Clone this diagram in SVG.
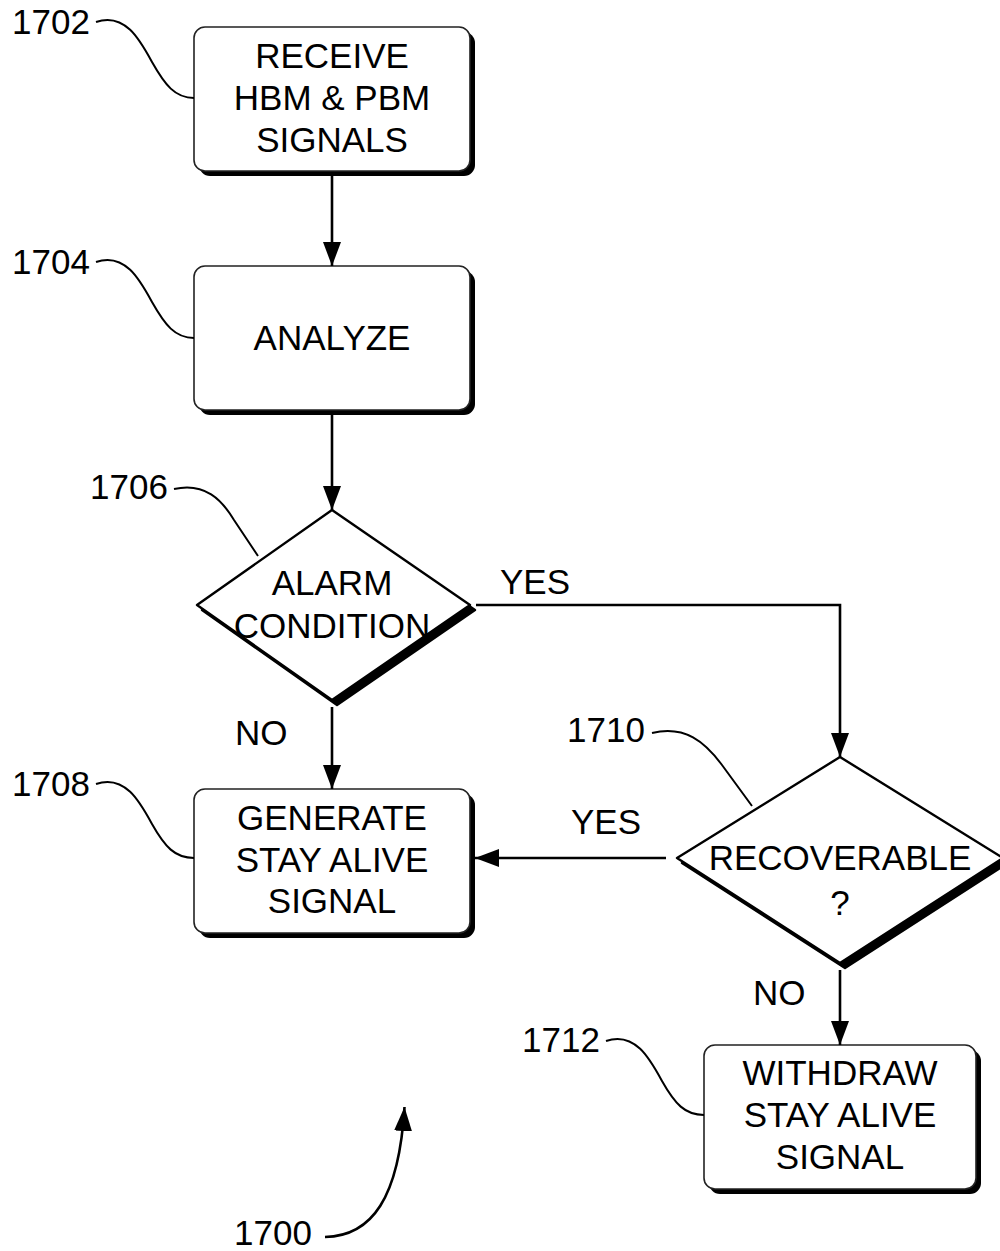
<svg xmlns="http://www.w3.org/2000/svg" width="1000" height="1251" viewBox="0 0 1000 1251">
<style>
text{font-family:"Liberation Sans",Arial,sans-serif;font-size:35px;fill:#000;}
.c{text-anchor:middle;}
.box{fill:#fff;stroke:#222;stroke-width:1.6;}
.dm{fill:#fff;stroke:#000;stroke-width:2.4;stroke-linejoin:round;}
.sh{fill:#000;}
.ln{fill:none;stroke:#000;stroke-width:2.6;}
.ld{fill:none;stroke:#000;stroke-width:2;}
</style>
<defs>
<marker id="ah" markerWidth="24" markerHeight="18" refX="24" refY="9" orient="auto" markerUnits="userSpaceOnUse" viewBox="0 0 24 18">
<path d="M0,0 L24,9 L0,18 Z" fill="#000"/>
</marker>
</defs>
<rect width="1000" height="1251" fill="#fff"/>

<g id="n1702">
<rect class="sh" x="199" y="32" width="276" height="144" rx="11"/>
<rect class="box" x="194" y="27" width="276" height="144" rx="11"/>
<text class="c" x="332" y="68">RECEIVE</text>
<text class="c" x="332" y="110">HBM &amp; PBM</text>
<text class="c" x="332" y="152">SIGNALS</text>
</g>
<g id="n1704">
<rect class="sh" x="199" y="271" width="276" height="144" rx="11"/>
<rect class="box" x="194" y="266" width="276" height="144" rx="11"/>
<text class="c" x="332" y="350">ANALYZE</text>
</g>
<g id="n1706">
<polygon class="sh" points="337,515 475,610 337,705 202,610" stroke="#000" stroke-width="2.4" stroke-linejoin="round"/>
<polygon class="dm" points="332,510 470,605 332,700 197,605"/>
<text class="c" x="332" y="595">ALARM</text>
<text class="c" x="332" y="638">CONDITION</text>
</g>
<g id="n1708">
<rect class="sh" x="199" y="794" width="276" height="144" rx="11"/>
<rect class="box" x="194" y="789" width="276" height="144" rx="11"/>
<text class="c" x="332" y="830">GENERATE</text>
<text class="c" x="332" y="872">STAY ALIVE</text>
<text class="c" x="332" y="913">SIGNAL</text>
</g>
<g id="n1710">
<polygon class="sh" points="845,762 1008,863 845,968 682,863" stroke="#000" stroke-width="2.4" stroke-linejoin="round"/>
<polygon class="dm" points="840,757 1003,858 840,963 677,858"/>
<text class="c" x="840" y="870">RECOVERABLE</text>
<text class="c" x="840" y="915">?</text>
</g>
<g id="n1712">
<rect class="sh" x="709" y="1050" width="272" height="144" rx="11"/>
<rect class="box" x="704" y="1045" width="272" height="144" rx="11"/>
<text class="c" x="840" y="1085">WITHDRAW</text>
<text class="c" x="840" y="1127">STAY ALIVE</text>
<text class="c" x="840" y="1169">SIGNAL</text>
</g>

<g id="connectors">
<line class="ln" x1="332" y1="176" x2="332" y2="266" marker-end="url(#ah)"/>
<line class="ln" x1="332" y1="415" x2="332" y2="510" marker-end="url(#ah)"/>
<line class="ln" x1="332" y1="707" x2="332" y2="789" marker-end="url(#ah)"/>
<polyline class="ln" points="476,605 840,605 840,757" marker-end="url(#ah)"/>
<line class="ln" x1="666" y1="858" x2="475" y2="858" marker-end="url(#ah)"/>
<line class="ln" x1="840" y1="970" x2="840" y2="1045" marker-end="url(#ah)"/>
<path class="ln" d="M325,1237 C372,1236 399,1198 404.5,1107" marker-end="url(#ah)"/>
</g>

<g id="labels">
<text x="12" y="34">1702</text>
<path class="ld" d="M96,22 C125,12 140,40 152,62 C165,85 175,98 194,98"/>
<text x="12" y="274">1704</text>
<path class="ld" d="M96,262 C125,252 140,280 152,302 C165,325 175,338 194,338"/>
<text x="90" y="499">1706</text>
<path class="ld" d="M174,489 C205,482 222,500 234,520 L258,556"/>
<text x="12" y="796">1708</text>
<path class="ld" d="M96,784 C125,774 140,802 152,824 C165,847 175,858 194,858"/>
<text x="567" y="742">1710</text>
<path class="ld" d="M652,733 C685,725 705,742 722,765 L752,806"/>
<text x="522" y="1052">1712</text>
<path class="ld" d="M606,1041 C635,1031 650,1059 662,1081 C675,1104 685,1115 704,1115"/>
<text x="234" y="1245">1700</text>
<text x="500" y="594">YES</text>
<text x="235" y="745">NO</text>
<text x="571" y="834">YES</text>
<text x="753" y="1005">NO</text>
</g>
</svg>
